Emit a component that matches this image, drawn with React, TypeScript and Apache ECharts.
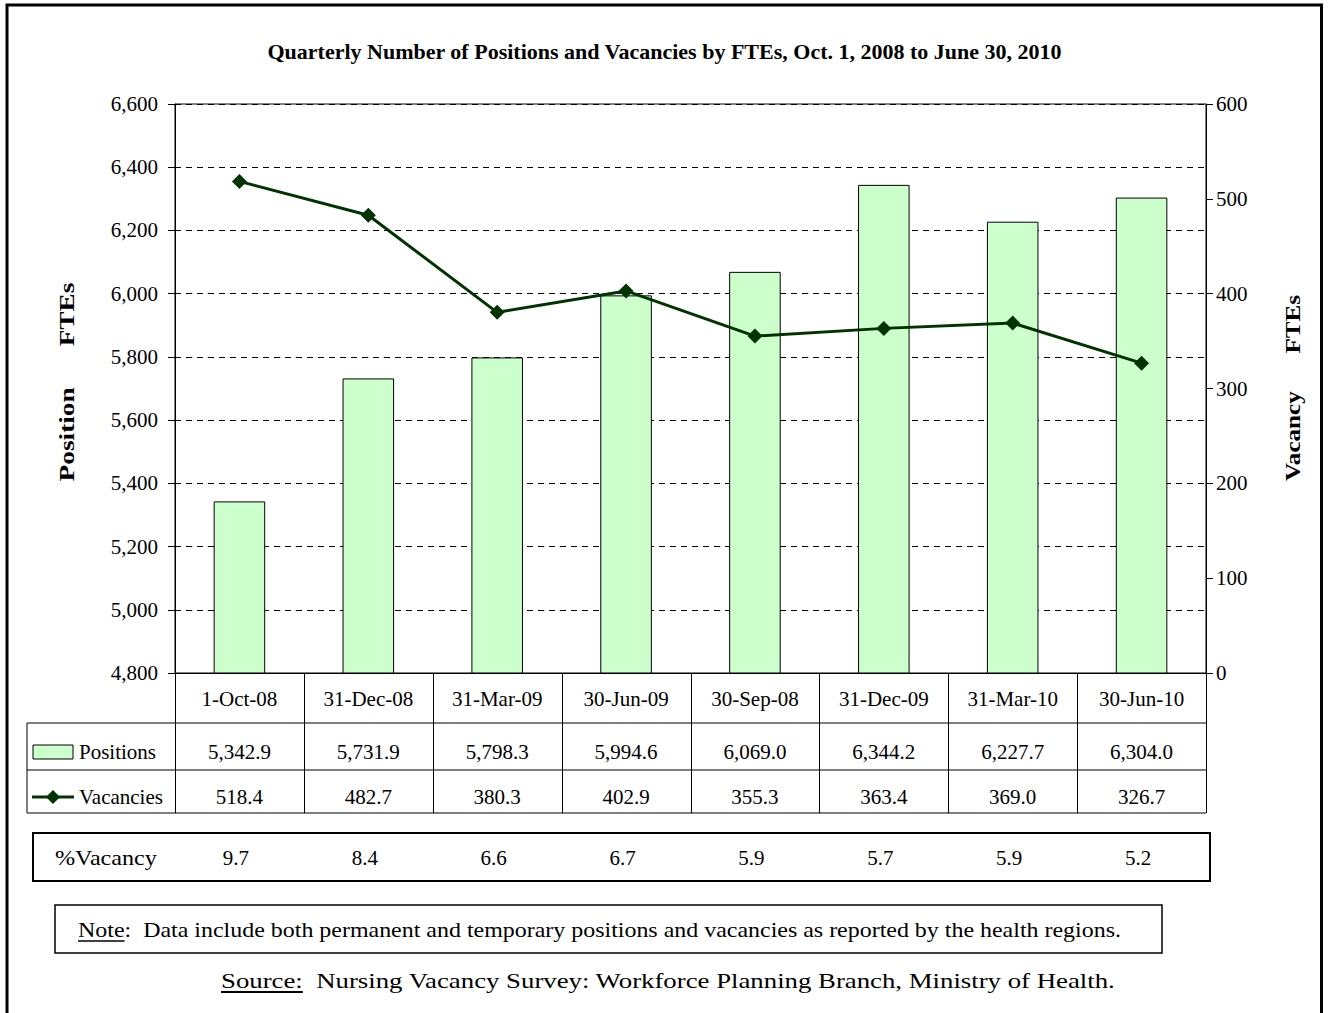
import React, { useEffect, useRef } from "react";
import * as echarts from "echarts";

const categories = ["1-Oct-08", "31-Dec-08", "31-Mar-09", "30-Jun-09", "30-Sep-08", "31-Dec-09", "31-Mar-10", "30-Jun-10"];
const positions = [5342.9, 5731.9, 5798.3, 5994.6, 6069.0, 6344.2, 6227.7, 6304.0];
const vacancies = [518.4, 482.7, 380.3, 402.9, 355.3, 363.4, 369.0, 326.7];
const pctVacancy = [9.7, 8.4, 6.6, 6.7, 5.9, 5.7, 5.9, 5.2];

const leftMin = 4800;
const leftMax = 6600;
const leftStep = 200;
const rightMin = 0;
const rightMax = 600;
const rightStep = 100;

const titleText = "Quarterly Number of Positions and Vacancies by FTEs, Oct. 1, 2008 to June 30, 2010";
const leftName = "Position      FTEs";
const rightName = "Vacancy      FTEs";
const pctLabel = "%Vacancy";
const noteLabel = "Note";
const noteText = ":  Data include both permanent and temporary positions and vacancies as reported by the health regions.";
const sourceLabel = "Source:";
const sourceText = "  Nursing Vacancy Survey: Workforce Planning Branch, Ministry of Health.";

const FONT = '"Liberation Serif", "Times New Roman", serif';

const fmt1 = (v: number) =>
  v.toLocaleString("en-US", { minimumFractionDigits: 1, maximumFractionDigits: 1 });

function measure(text: string, size: number, weight = "normal") {
  const c = document.createElement("canvas");
  const ctx = c.getContext("2d")!;
  ctx.font = `${weight} ${size}px "Liberation Serif"`;
  return ctx.measureText(text).width;
}

export default function App() {
  const ref = useRef<HTMLDivElement>(null);
  useEffect(() => {
    if (!ref.current) return;
    const chart = echarts.init(ref.current, undefined, { renderer: "svg" });

    const gl = 175, gr = 1206, gt = 104, gb = 673;
    const colW = (gr - gl) / categories.length;
    const lineStyle = { stroke: "#000", lineWidth: 1 };
    const graphics: any[] = [];
    graphics.push({
      type: "rect",
      shape: { x: 7, y: 5, width: 1314.5, height: 1030 },
      style: { fill: "none", stroke: "#000", lineWidth: 3 },
    });
    [723, 770, 813].forEach((y) =>
      graphics.push({ type: "line", shape: { x1: 27, y1: y, x2: gr, y2: y }, style: lineStyle })
    );
    graphics.push({ type: "line", shape: { x1: 27, y1: 723, x2: 27, y2: 813 }, style: lineStyle });
    for (let i = 0; i <= categories.length; i++) {
      const x = Math.round(gl + i * colW) + 0.5;
      graphics.push({ type: "line", shape: { x1: x, y1: gb, x2: x, y2: 813 }, style: lineStyle });
    }
    // axis names (rotated, stretched to match letter-spaced originals)
    const nameSize = 22;
    const lw = measure(leftName, nameSize, "bold");
    graphics.push({
      type: "text",
      x: 66,
      y: 382,
      rotation: Math.PI / 2,
      scaleX: 199 / lw,
      style: { text: leftName, font: `bold ${nameSize}px ${FONT}`, fill: "#000", align: "center", verticalAlign: "middle" },
    });
    const rw = measure(rightName, nameSize, "bold");
    graphics.push({
      type: "text",
      x: 1293,
      y: 388,
      rotation: Math.PI / 2,
      scaleX: 186 / rw,
      style: { text: rightName, font: `bold ${nameSize}px ${FONT}`, fill: "#000", align: "center", verticalAlign: "middle" },
    });
    // legend in table
    graphics.push({
      type: "rect",
      shape: { x: 33, y: 745, width: 40, height: 14 },
      style: { fill: "#ccffcc", stroke: "#000", lineWidth: 1 },
    });
    graphics.push({
      type: "text",
      x: 79,
      y: 752,
      style: { text: "Positions", font: `21px ${FONT}`, fill: "#000", verticalAlign: "middle" },
    });
    graphics.push({ type: "line", shape: { x1: 32, y1: 797, x2: 74, y2: 797 }, style: { stroke: "#003300", lineWidth: 3 } });
    graphics.push({
      type: "polygon",
      shape: { points: [[53, 790], [60, 797], [53, 804], [46, 797]] },
      style: { fill: "#003300" },
    });
    graphics.push({
      type: "text",
      x: 79,
      y: 797,
      style: { text: "Vacancies", font: `21px ${FONT}`, fill: "#000", verticalAlign: "middle" },
    });
    // % vacancy box
    graphics.push({
      type: "rect",
      shape: { x: 33, y: 833, width: 1177, height: 48 },
      style: { fill: "none", stroke: "#000", lineWidth: 2 },
    });
    const pw = measure(pctLabel, 21);
    graphics.push({
      type: "text",
      x: 55,
      y: 858,
      scaleX: 102 / pw,
      style: { text: pctLabel, font: `21px ${FONT}`, fill: "#000", verticalAlign: "middle" },
    });
    // note box
    graphics.push({
      type: "rect",
      shape: { x: 55, y: 905, width: 1107, height: 48 },
      style: { fill: "none", stroke: "#000", lineWidth: 1.5 },
    });
    const noteSize = 20;
    const noteW = measure(noteLabel, noteSize);
    const noteTotal = measure(noteLabel + noteText, noteSize);
    graphics.push({
      type: "group",
      x: 78,
      y: 930,
      scaleX: 1044 / noteTotal,
      children: [
        { type: "text", x: 0, y: 0, style: { text: noteLabel, font: `${noteSize}px ${FONT}`, fill: "#000", verticalAlign: "middle" } },
        { type: "line", shape: { x1: 0, y1: 11, x2: noteW, y2: 11 }, style: { stroke: "#000", lineWidth: 1.5 } },
        { type: "text", x: noteW, y: 0, style: { text: noteText, font: `${noteSize}px ${FONT}`, fill: "#000", verticalAlign: "middle" } },
      ],
    });
    const srcSize = 22;
    const srcW = measure(sourceLabel, srcSize);
    const srcTotal = measure(sourceLabel + sourceText, srcSize);
    graphics.push({
      type: "group",
      x: 221,
      y: 980,
      scaleX: 895 / srcTotal,
      children: [
        { type: "text", x: 0, y: 0, style: { text: sourceLabel, font: `${srcSize}px ${FONT}`, fill: "#000", verticalAlign: "middle" } },
        { type: "line", shape: { x1: 0, y1: 12, x2: srcW, y2: 12 }, style: { stroke: "#000", lineWidth: 2 } },
        { type: "text", x: srcW, y: 0, style: { text: sourceText, font: `${srcSize}px ${FONT}`, fill: "#000", verticalAlign: "middle" } },
      ],
    });

    const labelStyle = { fontFamily: FONT, fontSize: 21, color: "#000" };
    const rowAxis = (data: string[], offset: number, padding: number[] = [0, 0, 0, 0]) => ({
      type: "category",
      data,
      position: "bottom",
      offset,
      axisLine: { show: false },
      axisTick: { show: false },
      axisLabel: { ...labelStyle, margin: 0, interval: 0, padding },
      splitLine: { show: false },
    });

    chart.setOption({
      animation: false,
      title: {
        text: titleText,
        left: "center",
        top: 35,
        textStyle: { fontFamily: FONT, fontSize: 22, fontWeight: "bold", color: "#000" },
      },
      grid: { left: gl, right: 1329 - gr, top: gt, bottom: 1013 - gb, show: true, borderColor: "#000", borderWidth: 1 },
      xAxis: [
        {
          type: "category",
          data: categories,
          axisLine: { show: true, lineStyle: { color: "#000", width: 1 } },
          axisTick: { show: false },
          axisLabel: { ...labelStyle, margin: 15, interval: 0 },
        },
        rowAxis(positions.map(fmt1), 68),
        rowAxis(vacancies.map(fmt1), 113),
        rowAxis(pctVacancy.map(fmt1), 174, [0, 7, 0, 0]),
      ],
      yAxis: [
        {
          type: "value",
          min: leftMin,
          max: leftMax,
          interval: leftStep,
          axisLine: { show: true, lineStyle: { color: "#000", width: 1 } },
          axisTick: { show: true, length: 7, lineStyle: { color: "#000" } },
          axisLabel: {
            ...labelStyle,
            margin: 17,
            formatter: (v: number) => v.toLocaleString("en-US"),
          },
          splitLine: { show: true, lineStyle: { color: "#000", type: [6, 5], width: 1 } },
        },
        {
          type: "value",
          min: rightMin,
          max: rightMax,
          interval: rightStep,
          position: "right",
          axisLine: { show: true, lineStyle: { color: "#000", width: 1 } },
          axisTick: { show: true, length: 7, lineStyle: { color: "#000" } },
          axisLabel: { ...labelStyle, margin: 10 },
          splitLine: { show: false },
        },
      ],
      series: [
        {
          name: "Positions",
          type: "bar",
          xAxisIndex: 0,
          yAxisIndex: 0,
          data: positions,
          barWidth: "40%",
          itemStyle: { color: "#ccffcc", borderColor: "#000", borderWidth: 1 },
        },
        {
          name: "Vacancies",
          type: "line",
          xAxisIndex: 0,
          yAxisIndex: 1,
          data: vacancies,
          symbol: "diamond",
          symbolSize: 15,
          itemStyle: { color: "#003300" },
          lineStyle: { color: "#003300", width: 3 },
        },
      ],
      graphic: graphics,
    });
    return () => chart.dispose();
  }, []);
  return (
    <div
      ref={ref}
      style={{ position: "absolute", left: 0, top: 0, width: 1329, height: 1013, background: "#fff" }}
    />
  );
}
